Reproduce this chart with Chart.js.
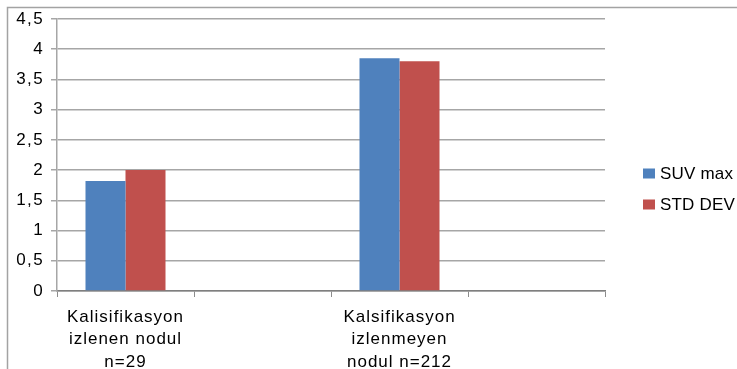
<!DOCTYPE html>
<html>
<head>
<meta charset="utf-8">
<script src="https://cdn.jsdelivr.net/npm/chart.js@4/dist/chart.umd.min.js"></script>
<style>
  html, body { margin: 0; padding: 0; background: #ffffff; }
  #wrap { width: 737px; height: 369px; position: relative; }
</style>
</head>
<body>
<div id="wrap"><canvas id="c" width="737" height="369"></canvas></div>
<script>
// Category labels (multi-line); empty slots keep the spacing of the axis
const categories = [
  ['Kalisifikasyon', 'izlenen nodul', 'n=29'],
  '',
  ['Kalsifikasyon', 'izlenmeyen', 'nodul n=212'],
  ''
];
const seriesNames = ['SUV max', 'STD DEV'];
const suvMax = [1.82, null, 3.85, null];
const stdDev = [2.0, null, 3.8, null];
const seriesColors = ['#4F81BD', '#C0504D'];
const yTicks = [0, 0.5, 1, 1.5, 2, 2.5, 3, 3.5, 4, 4.5];

const FONT = '"Liberation Sans", Arial, sans-serif';

// Letter spacing for axis text
const spacingPlugin = {
  id: 'spacing',
  beforeLayout(chart) { chart.ctx.letterSpacing = '1px'; },
  beforeDraw(chart) { chart.ctx.letterSpacing = '1px'; }
};

// Outer frame of the chart object
const framePlugin = {
  id: 'frame',
  beforeDraw(chart) {
    const ctx = chart.ctx;
    ctx.save();
    ctx.fillStyle = '#ffffff';
    ctx.fillRect(0, 0, chart.width, chart.height);
    ctx.strokeStyle = '#a3a3a3';
    ctx.lineWidth = 1.5;
    ctx.beginPath();
    ctx.moveTo(chart.width + 2, 7.5);
    ctx.lineTo(7.5, 7.5);
    ctx.lineTo(7.5, chart.height + 2);
    ctx.stroke();
    ctx.restore();
  }
};

// Legend on the right, drawn from the datasets
const legendPlugin = {
  id: 'sideLegend',
  afterDraw(chart) {
    const ctx = chart.ctx;
    ctx.save();
    ctx.letterSpacing = '0.2px';
    ctx.font = '17px ' + FONT;
    ctx.textBaseline = 'middle';
    ctx.textAlign = 'left';
    chart.data.datasets.forEach((ds, i) => {
      const cy = 173.5 + i * 31;
      ctx.fillStyle = ds.backgroundColor;
      ctx.fillRect(643, cy - 5, 12, 10);
      ctx.fillStyle = '#000000';
      ctx.fillText(ds.label, 660, cy + 1);
    });
    ctx.restore();
  }
};

new Chart(document.getElementById('c'), {
  type: 'bar',
  data: {
    labels: categories,
    datasets: [
      { label: seriesNames[0], data: suvMax, backgroundColor: seriesColors[0] },
      { label: seriesNames[1], data: stdDev, backgroundColor: seriesColors[1] }
    ]
  },
  options: {
    responsive: false,
    animation: false,
    devicePixelRatio: 1,
    layout: { padding: { left: 8, top: 19, right: 132, bottom: 0 } },
    datasets: {
      bar: { barPercentage: 1.0, categoryPercentage: 0.584, borderWidth: 0 }
    },
    plugins: {
      legend: { display: false },
      tooltip: { enabled: false },
      title: { display: false }
    },
    scales: {
      x: {
        offset: true,
        grid: {
          offset: true,
          drawOnChartArea: false,
          drawTicks: true,
          tickLength: 6,
          color: '#8c8c8c',
          lineWidth: 1
        },
        border: { display: true, color: '#7f7f7f', width: 1.5 },
        ticks: {
          color: '#000000',
          font: { family: FONT, size: 17, lineHeight: 1.32 },
          padding: 9,
          maxRotation: 0,
          autoSkip: false
        },
        afterFit(scale) { scale.height = 78; }
      },
      y: {
        min: 0,
        max: 4.5,
        afterBuildTicks(scale) { scale.ticks = yTicks.map(v => ({ value: v })); },
        grid: {
          color: '#a6a6a6',
          lineWidth: 1.5,
          drawTicks: true,
          tickLength: 6
        },
        border: { display: true, color: '#a6a6a6', width: 1.5 },
        ticks: {
          color: '#000000',
          font: { family: FONT, size: 17 },
          padding: 7,
          callback: (v) => String(v).replace('.', ',')
        },
        afterFit(scale) {
          scale.width = 49;
          // slightly wider tracking for the value labels
          if (!scale._spaced) {
            const base = scale.drawLabels;
            scale.drawLabels = function (area) {
              const ctx = this.ctx;
              const prev = ctx.letterSpacing;
              ctx.letterSpacing = '1.4px';
              base.call(this, area);
              ctx.letterSpacing = prev;
            };
            scale._spaced = true;
          }
        }
      }
    }
  },
  plugins: [spacingPlugin, framePlugin, legendPlugin]
});
</script>
</body>
</html>
